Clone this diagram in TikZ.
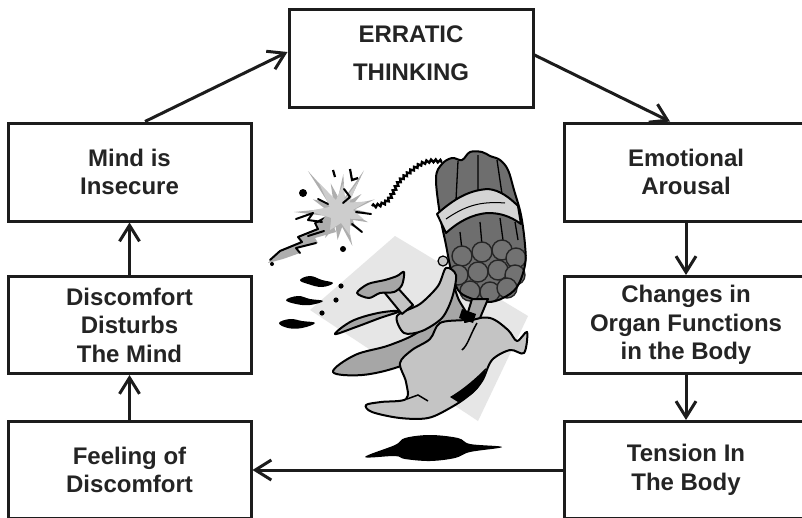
\documentclass[tikz,border=0pt]{standalone}
\usepackage{fontspec}
\setmainfont{Liberation Sans}
\usetikzlibrary{arrows.meta,decorations.pathmorphing}
\definecolor{ink}{HTML}{1C1C1C}
\definecolor{txt}{HTML}{242424}
\definecolor{sq}{HTML}{E6E6E6}
\definecolor{bodyg}{HTML}{C4C4C4}
\definecolor{capeg}{HTML}{A6A6A6}
\definecolor{dyng}{HTML}{6E6E6E}
\definecolor{capg}{HTML}{727272}
\definecolor{tapeg}{HTML}{D4D4D4}
\definecolor{explg}{HTML}{CDCDCD}
\definecolor{halog}{HTML}{AEAEAE}
\begin{document}
\begin{tikzpicture}[x=1pt,y=-1pt,
  box/.style={draw=ink, line width=3pt, minimum width=243pt, minimum height=97pt,
    inner sep=0pt, align=center, text=txt,
    font=\fontsize{24}{28.5}\selectfont\bfseries},
  arr/.style={draw=ink, line width=3pt, -{Straight Barb[length=16pt,width=20pt]}},
  ol/.style={draw=black, line width=2pt, line join=round},
  thin/.style={draw=black, line width=1.2pt, line join=round},
  streak/.style={draw=black, line width=2pt, line join=round, line cap=round}]
\useasboundingbox (0,0) rectangle (802,517);
\clip (0,0) rectangle (802,517);
\fill[white] (0,0) rectangle (802,517);

% ---------- clipart ----------
% background square
\fill[sq] (395,236) -- (528,316) -- (478,421) -- (310,310) -- cycle;

% explosion trail
\fill[halog] (329,214) -- (315,222) -- (318,228) -- (298,236) -- (302,241)
  -- (280,250) -- (268,263) -- (283,259) -- (300,253) -- (297,248) -- (318,243)
  -- (315,238) -- (336,232) -- cycle;
\draw[streak] (329,216) -- (315,223) -- (318,229) -- (298,237) -- (302,242) -- (280,251) -- (270,260);
\draw[streak] (300,253) -- (296,248) -- (316,243);
% explosion halo
\fill[halog, shift={(340,212)}]
  (232:52) -- (242:15) -- (252:30) -- (263:15) -- (275:38) -- (288:15) -- (300:48)
  -- (310:15) -- (320:28) -- (330:15) -- (340:37) -- (350:15) -- (0:26) -- (10:15)
  -- (20:30) -- (32:15) -- (45:22) -- (57:15) -- (70:36) -- (82:15) -- (95:28)
  -- (107:15) -- (120:30) -- (135:15) -- (150:22) -- (165:15) -- (180:46)
  -- (192:15) -- (205:30) -- (218:15) -- cycle;
% explosion core
\fill[explg, shift={(341,211)}]
  (232:36) -- (245:12) -- (275:28) -- (288:12) -- (300:34) -- (315:12) -- (340:28)
  -- (355:12) -- (20:24) -- (40:12) -- (70:26) -- (90:12) -- (120:22) -- (145:12)
  -- (180:32) -- (200:12) -- cycle;
% black streaks in the burst
\draw[streak] (296,219) -- (313,213) -- (308,220) -- (322,222);
\draw[streak] (308,236) -- (324,231);
\draw[streak] (344,189) -- (350,197) -- (343,203);
\draw[streak] (356,212) -- (371,214);
\draw[streak] (352,224) -- (362,232);
\draw[streak] (318,199) -- (328,204);
% marks around explosion
\fill[black] (303,193) circle (4);
\fill[black] (343,249) circle (3);
\fill[black] (272,264) circle (2);
\draw[black, line width=2.2pt] (333,170) -- (335,177);
\draw[black, line width=2.2pt] (350,169) -- (352,180) -- (358,178);

% fuse
\draw[black, line width=2.4pt, decorate,
  decoration={snake, amplitude=1.4pt, segment length=4.5pt}]
  (372,206) .. controls (394,205) and (390,186) .. (404,176)
  .. controls (416,166) and (424,158) .. (442,162);

% dynamite bundle
\fill[dyng] plot[smooth cycle, tension=0.6] coordinates {
  (436,178) (442,164) (452,158) (462,160) (470,152) (482,152) (490,156)
  (500,160) (508,170) (514,190) (521,215) (525,245) (525,265) (517,287)
  (503,298) (488,302) (470,298) (458,290) (451,270) (446,245) (440,215)};
\draw[black, line width=1.3pt] (458,161) -- (456,200) (478,155) -- (478,192)
  (497,160) -- (502,194) (460,232) -- (462,250) (480,222) -- (482,245)
  (500,218) -- (503,240) (515,222) -- (518,240);
\foreach \p in {(462,256),(482,252),(502,250),(516,258),
                (458,275),(478,272),(498,270),(515,275),
                (470,291),(490,292),(507,288)}
  \filldraw[fill=capg, draw=black!85, line width=1.4pt] \p circle (10);
\draw[ol] plot[smooth cycle, tension=0.6] coordinates {
  (436,178) (442,164) (452,158) (462,160) (470,152) (482,152) (490,156)
  (500,160) (508,170) (514,190) (521,215) (525,245) (525,265) (517,287)
  (503,298) (488,302) (470,298) (458,290) (451,270) (446,245) (440,215)};
% tape band
\filldraw[fill=tapeg, ol] (437,214) .. controls (455,198) and (470,190) .. (488,189)
  .. controls (500,190) and (510,198) .. (518,206) -- (521,224)
  .. controls (510,216) and (500,213) .. (488,213)
  .. controls (472,214) and (458,222) .. (446,233) -- cycle;
\draw[black, line width=1pt] (446,219) .. controls (465,206) and (480,201) .. (505,203);

% cape
\filldraw[fill=capeg, ol] plot[smooth cycle, tension=0.6] coordinates {
  (448,272) (441,304) (421,330) (390,345) (355,355) (333,372) (362,375)
  (398,367) (426,353) (452,336) (468,320) (458,298)};
% streamer
\filldraw[fill=capeg, ol] plot[smooth cycle, tension=0.6] coordinates {
  (335,334) (352,321) (378,313) (400,311) (380,318) (356,327)};
% body
\filldraw[fill=bodyg, ol] plot[smooth cycle, tension=0.55] coordinates {
  (440,323) (465,320) (490,318) (508,330) (517,341) (527,332) (524,353)
  (510,350) (492,360) (482,381) (468,396) (450,408) (428,418) (400,418)
  (372,412) (366,405) (381,402) (406,399) (406,382) (400,363) (412,350) (430,339)};
\draw[black, line width=1.5pt] (477,323) .. controls (470,335) and (468,345) .. (462,350);
\draw[black, line width=1.5pt] (407,399) -- (418,395) -- (428,401);
% shading
\fill[black] (450,397) .. controls (465,388) and (476,378) .. (486,368)
  .. controls (484,385) and (475,395) .. (458,402) -- cycle;
% raised sleeve holding dynamite
\filldraw[fill=bodyg, ol] plot[smooth cycle, tension=0.5] coordinates {
  (397,316) (420,304) (438,286) (446,268) (456,275) (452,298) (442,318)
  (422,331) (404,333)};
\filldraw[fill=bodyg, thin] (443,261) circle (5);
% dark sleeve with band
\filldraw[fill=capeg, ol] (472,299) -- (488,299) -- (480,318) -- (465,322) -- cycle;
\fill[black] (462,309) -- (476,314) -- (473,323) -- (459,318) -- cycle;
% forearm and hand raised to the left
\filldraw[fill=bodyg, ol] (384,292) -- (396,286) -- (413,305) -- (402,314) -- cycle;
\filldraw[fill=capeg, ol] plot[smooth cycle, tension=0.5] coordinates {
  (357,293) (368,284) (385,280) (397,276) (404,272) (402,285) (394,292)
  (380,293) (369,298)};

% shadow
\fill[black] plot[smooth cycle, tension=0.6] coordinates {
  (365,457) (395,445) (405,438) (430,435) (458,438) (470,444) (502,447)
  (470,452) (455,458) (430,461) (405,459) (395,456)};

% splash marks
\fill[black] plot[smooth cycle, tension=0.7] coordinates {
  (300,280) (310,276) (322,280) (333,283) (322,287) (308,284)};
\fill[black] plot[smooth cycle, tension=0.7] coordinates {
  (286,300) (298,296) (310,299) (323,301) (310,305) (296,304)};
\fill[black] plot[smooth cycle, tension=0.7] coordinates {
  (279,323) (290,319) (302,321) (315,323) (302,328) (288,328)};
\fill[black] (341,286) circle (2.6) (336,300) circle (2.6) (322,313) circle (2.6);

% ---------- boxes ----------
\node[box, minimum width=244pt, minimum height=98pt] (err) at (411,58)
  {ERRATIC\\[9.5pt]THINKING\rule[-9pt]{0pt}{9pt}};
\node[box, minimum height=98pt] (mind) at (129.5,172) {Mind is\\Insecure};
\node[box] (disc) at (129.5,325) {Discomfort\\Disturbs\\The Mind};
\node[box] (feel) at (129.5,470) {Feeling of\\Discomfort};
\node[box, minimum width=244pt, minimum height=98pt] (emo) at (686,172) {Emotional\\Arousal};
\node[box, minimum width=244pt] (chg) at (686,325) {Changes in\\Organ Functions\\in the Body};
\node[box, minimum width=244pt] (ten) at (686,470) {Tension In\\The Body};

% ---------- connectors ----------
\draw[arr] ([xshift=15.5pt]mind.north) -- ([yshift=6pt]err.west);
\draw[arr] ([yshift=3pt]err.east) -- ([xshift=-16pt]emo.north);
\draw[arr] (emo.south) -- (chg.north);
\draw[arr] (chg.south) -- (ten.north);
\draw[arr] (ten.west) -- (feel.east);
\draw[arr] (feel.north) -- (disc.south);
\draw[arr] (disc.north) -- (mind.south);
\end{tikzpicture}
\end{document}
